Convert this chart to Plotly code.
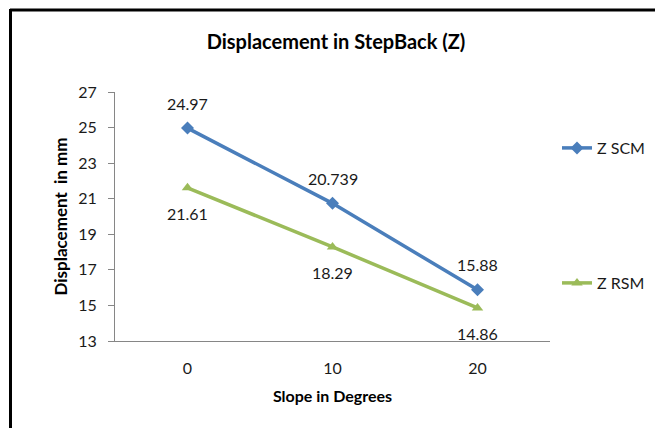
import plotly.graph_objects as go

slopes = [0, 10, 20]
z_scm = [24.97, 20.739, 15.88]
z_rsm = [21.61, 18.29, 14.86]
scm_labels = ["24.97", "20.739", "15.88"]
rsm_labels = ["21.61", "18.29", "14.86"]
y_ticks = [13, 15, 17, 19, 21, 23, 25, 27]

W, H = 655, 428
L, R, T, B = 115, 105, 92, 87
pw, ph = W - L - R, H - T - B

def px(x):
    return (x - L) / pw

def py(y):
    return (H - B - y) / ph

font = "Lato, 'Open Sans', sans-serif"
blue = "#4A7EBB"
green = "#9BBB59"
txt = "#1a1a1a"

fig = go.Figure()
fig.add_trace(go.Scatter(
    x=slopes, y=z_scm, mode="lines+markers", name="Z SCM",
    line=dict(color=blue, width=3.5),
    marker=dict(symbol="diamond", size=10, color=blue),
    legend="legend", showlegend=True,
))
fig.add_trace(go.Scatter(
    x=slopes, y=z_rsm, mode="lines+markers", name="Z RSM",
    line=dict(color=green, width=3.5),
    marker=dict(symbol="triangle-up", size=10, color=green),
    legend="legend2", showlegend=True,
))

annotations = []
for xv, yv, t in zip(slopes, z_scm, scm_labels):
    annotations.append(dict(x=xv, y=yv, text=t, showarrow=False, yshift=25,
                            font=dict(size=16, color=txt)))
for xv, yv, t in zip(slopes, z_rsm, rsm_labels):
    annotations.append(dict(x=xv, y=yv, text=t, showarrow=False, yshift=-26,
                            font=dict(size=16, color=txt)))

fig.update_layout(
    width=W, height=H,
    showlegend=True,
    margin=dict(l=L, r=R, t=T, b=B, autoexpand=False),
    paper_bgcolor="white", plot_bgcolor="white",
    font=dict(family=font, color=txt),
    title=dict(text="<b>Displacement in StepBack (Z)</b>", x=336 / W, xanchor="center",
               y=1 - 42 / H, yanchor="middle", font=dict(size=20, color="black")),
    xaxis=dict(range=[-5, 25], tickvals=slopes, ticktext=[str(s) for s in slopes],
               showgrid=False, zeroline=False, showline=True, linecolor="#868686", linewidth=1,
               ticks="", ticklabelstandoff=13, tickfont=dict(size=16, color=txt),
               title=dict(text="<b>Slope in Degrees</b>", font=dict(size=16, color="black"), standoff=14)),
    yaxis=dict(range=[13, 27], tickvals=y_ticks, showgrid=False, zeroline=False,
               showline=True, linecolor="#868686", linewidth=1,
               ticks="outside", ticklen=6, tickcolor="#868686", ticklabelstandoff=8,
               tickfont=dict(size=16, color=txt),
               title=dict(text="<b>Displacement  in mm</b>", font=dict(size=17, color="black"), standoff=6)),
    legend=dict(x=px(557), y=py(148), xanchor="left", yanchor="middle",
                font=dict(size=16, color=txt), bgcolor="rgba(0,0,0,0)", itemwidth=30),
    legend2=dict(x=px(557), y=py(283), xanchor="left", yanchor="middle",
                 font=dict(size=16, color=txt), bgcolor="rgba(0,0,0,0)", itemwidth=30),
    annotations=annotations,
    shapes=[
        dict(type="line", xref="paper", yref="paper", x0=px(10), x1=px(660), y0=py(10), y1=py(10),
             line=dict(color="black", width=3)),
        dict(type="line", xref="paper", yref="paper", x0=px(10.5), x1=px(10.5), y0=py(9), y1=py(432),
             line=dict(color="black", width=3)),
    ],
)

fig.write_html("out.html", config={"displayModeBar": False},
               post_script="document.body.style.margin='0px';")
